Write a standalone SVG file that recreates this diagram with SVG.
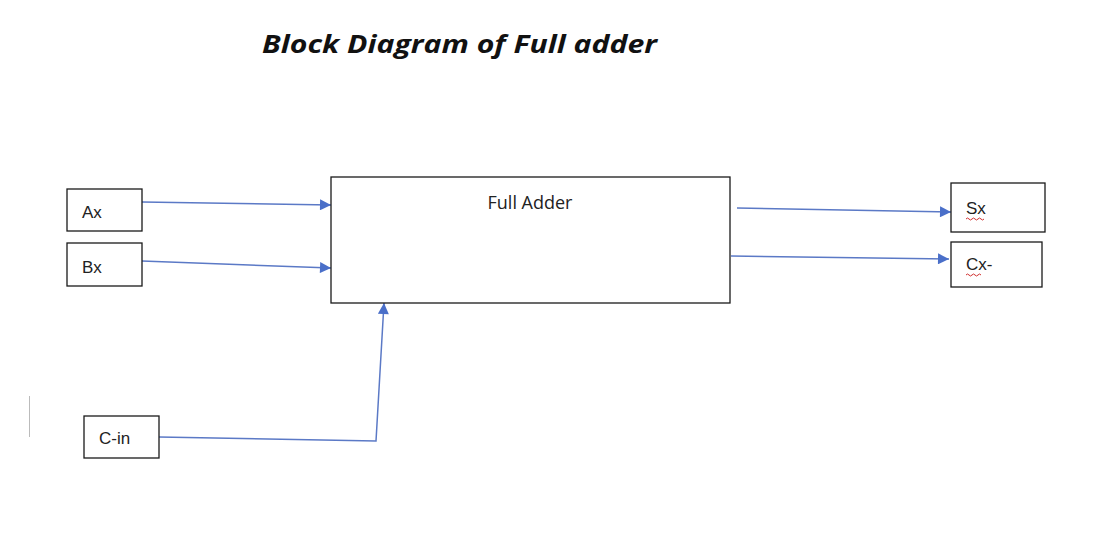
<svg xmlns="http://www.w3.org/2000/svg" width="1094" height="536" viewBox="0 0 1094 536">
<style>
.box{fill:#fff;stroke:#1a1a1a;stroke-width:1.3}
.lbl{font-family:"Liberation Sans","Open Sans",sans-serif;font-size:17px;fill:#222}
.con{fill:none;stroke:#5b79c6;stroke-width:1.5}
.sq{fill:none;stroke:#d03030;stroke-width:1}
</style>
<defs>
<marker id="arr" viewBox="0 0 10 10" refX="10" refY="5" markerWidth="12" markerHeight="11" markerUnits="userSpaceOnUse" orient="auto">
<path d="M0,0 L10,5 L0,10 z" fill="#4a6fc9"/>
</marker>
</defs>
<rect width="1094" height="536" fill="#fff"/>
<text x="262" y="53" font-family="'Open Sans','Liberation Sans',sans-serif" font-size="25" font-weight="bold" font-style="italic" fill="#111" textLength="395" lengthAdjust="spacingAndGlyphs">Block Diagram of Full adder</text>
<line x1="29.5" y1="396" x2="29.5" y2="437" stroke="#bbb" stroke-width="1"/>
<g id="connectors">
<path class="con" d="M142,202 L331,205" marker-end="url(#arr)"/>
<path class="con" d="M142,261 L331,268" marker-end="url(#arr)"/>
<path class="con" d="M737,208 L951,212" marker-end="url(#arr)"/>
<path class="con" d="M731,256 L949,259" marker-end="url(#arr)"/>
<path class="con" d="M159,437 L376,441 L384,303" marker-end="url(#arr)"/>
</g>
<g id="node-ax"><rect class="box" x="67" y="189" width="75" height="42"/><text class="lbl" x="82" y="218">Ax</text></g>
<g id="node-bx"><rect class="box" x="67" y="243" width="75" height="43"/><text class="lbl" x="82" y="273">Bx</text></g>
<g id="node-cin"><rect class="box" x="84" y="416" width="75" height="42"/><text class="lbl" x="99" y="444">C-in</text></g>
<g id="node-fa"><rect class="box" x="331" y="177" width="399" height="126"/><text x="530" y="209" text-anchor="middle" font-family="'Open Sans','Liberation Sans',sans-serif" font-size="18" fill="#222">Full Adder</text></g>
<g id="node-sx"><rect class="box" x="951" y="183" width="94" height="49"/><text class="lbl" x="966" y="214">Sx</text><path class="sq" d="M966,219 q1.5,-2 3,0 t3,0 t3,0 t3,0 t3,0 t3,0"/></g>
<g id="node-cx"><rect class="box" x="951" y="242" width="91" height="45"/><text class="lbl" x="966" y="270">Cx-</text><path class="sq" d="M966,275 q1.5,-2 3,0 t3,0 t3,0 t3,0 t3,0"/></g>
</svg>
